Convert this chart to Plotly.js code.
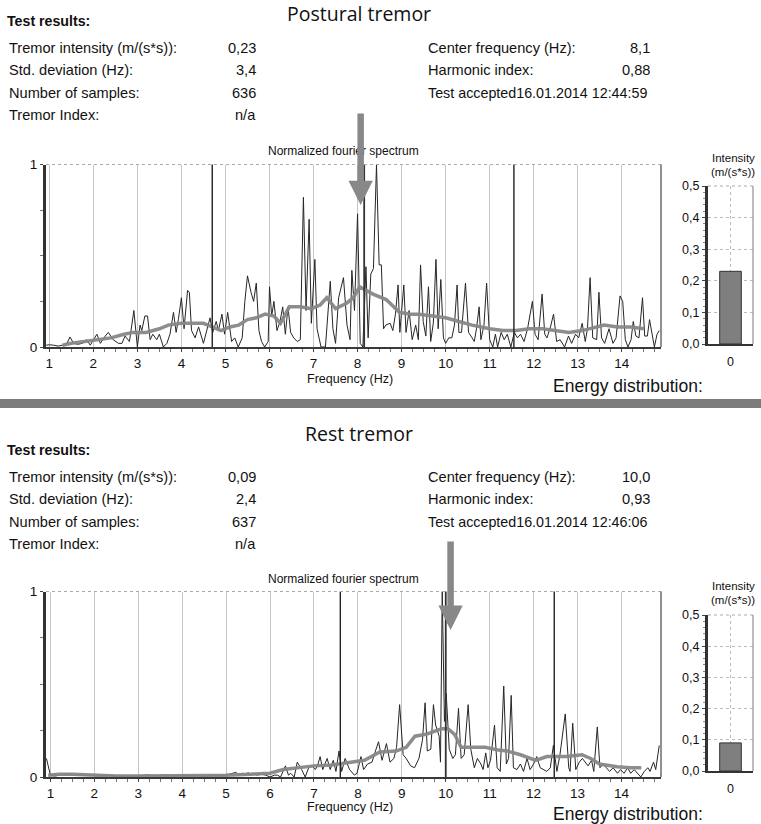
<!DOCTYPE html>
<html>
<head>
<meta charset="utf-8">
<script src="https://cdn.plot.ly/plotly-3.0.1.min.js"></script>
<style>
html,body{margin:0;padding:0;background:#fff;}
#chart{width:761px;height:824px;}
</style>
</head>
<body>
<div id="chart"></div>
<script>
// ---------- DATA ----------
// Postural tremor: normalized fourier spectrum (raw)
const posturalFreq = [0.93,1.00,1.10,1.20,1.30,1.40,1.47,1.55,1.65,1.75,1.85,1.93,2.08,2.16,2.27,2.34,2.45,2.57,2.65,2.72,2.82,2.92,3.00,3.06,3.10,3.17,3.23,3.29,3.35,3.44,3.50,3.59,3.67,3.74,3.82,3.88,3.93,4.00,4.06,4.14,4.18,4.23,4.31,4.39,4.50,4.58,4.65,4.71,4.79,4.84,4.92,4.98,5.05,5.14,5.21,5.29,5.38,5.44,5.50,5.58,5.64,5.70,5.76,5.82,5.89,5.97,6.00,6.05,6.10,6.17,6.24,6.30,6.36,6.42,6.48,6.55,6.63,6.70,6.77,6.83,6.90,6.95,7.03,7.08,7.17,7.27,7.38,7.44,7.50,7.57,7.68,7.76,7.83,7.87,7.93,8.00,8.06,8.12,8.19,8.24,8.30,8.36,8.43,8.49,8.54,8.59,8.64,8.74,8.80,8.86,8.92,8.96,9.05,9.10,9.17,9.24,9.32,9.38,9.43,9.49,9.55,9.61,9.66,9.72,9.78,9.83,9.89,9.95,10.00,10.07,10.14,10.20,10.26,10.30,10.36,10.45,10.52,10.60,10.65,10.70,10.76,10.80,10.87,10.93,11.00,11.07,11.13,11.18,11.26,11.33,11.40,11.48,11.56,11.63,11.70,11.78,11.86,11.97,12.03,12.10,12.19,12.25,12.30,12.38,12.45,12.52,12.60,12.70,12.79,12.86,12.95,13.02,13.10,13.17,13.22,13.28,13.34,13.43,13.48,13.54,13.61,13.71,13.80,13.87,13.96,14.02,14.08,14.14,14.21,14.26,14.32,14.39,14.47,14.52,14.58,14.63,14.68,14.74,14.80,14.85];
const posturalAmp  = [0.01,0.012,0.01,0.005,0.01,0.02,0.055,0.02,0.015,0.02,0.04,0.01,0.07,0.02,0.06,0.08,0.04,0.02,0.02,0.06,0.03,0.20,0.00,0.12,0.09,0.17,0.17,0.04,0.07,0.04,0.07,0.00,0.02,0.07,0.19,0.08,0.15,0.27,0.10,0.31,0.30,0.09,0.05,0.11,0.02,0.10,0.16,0.08,0.14,0.09,0.18,0.07,0.19,0.03,0.05,0.00,0.05,0.25,0.39,0.30,0.25,0.35,0.09,0.03,0.00,0.03,0.33,0.17,0.25,0.09,0.14,0.22,0.07,0.22,0.08,0.05,0.03,0.04,0.82,0.20,0.70,0.13,0.48,0.10,0.00,0.00,0.36,0.10,0.02,0.27,0.38,0.12,0.04,0.42,0.20,0.73,0.02,0.00,0.44,0.05,0.40,0.43,1.00,0.45,0.45,0.10,0.12,0.13,0.09,0.18,0.34,0.08,0.34,0.08,0.20,0.04,0.12,0.04,0.45,0.14,0.06,0.33,0.03,0.13,0.48,0.10,0.37,0.05,0.02,0.05,0.05,0.12,0.34,0.08,0.08,0.35,0.08,0.05,0.03,0.10,0.22,0.04,0.12,0.35,0.04,0.00,0.07,0.00,0.08,0.04,0.07,0.00,0.08,0.05,0.07,0.03,0.10,0.25,0.07,0.04,0.29,0.07,0.05,0.11,0.18,0.03,0.04,0.00,0.06,0.02,0.07,0.05,0.13,0.03,0.10,0.38,0.05,0.04,0.30,0.05,0.02,0.10,0.02,0.05,0.28,0.25,0.04,0.00,0.04,0.14,0.06,0.05,0.27,0.06,0.06,0.15,0.08,0.00,0.07,0.09];
// Postural tremor: smoothed spectrum
const posturalSmoothFreq = [1.3,1.5,1.8,2.1,2.4,2.7,2.9,3.2,3.5,3.7,4.0,4.3,4.5,4.7,4.9,5.1,5.3,5.5,5.7,5.9,6.1,6.25,6.45,6.7,6.95,7.15,7.3,7.5,7.75,7.9,8.05,8.35,8.65,8.95,9.2,9.4,9.7,10.0,10.3,10.6,11.0,11.3,11.6,11.9,12.2,12.5,12.8,13.1,13.4,13.6,13.9,14.2,14.5];
const posturalSmoothAmp  = [0.01,0.02,0.03,0.04,0.05,0.07,0.08,0.08,0.10,0.12,0.13,0.13,0.13,0.11,0.09,0.11,0.12,0.15,0.16,0.18,0.17,0.13,0.22,0.22,0.21,0.23,0.27,0.21,0.24,0.27,0.33,0.29,0.26,0.19,0.18,0.18,0.17,0.16,0.14,0.12,0.10,0.09,0.09,0.10,0.10,0.09,0.08,0.09,0.11,0.12,0.11,0.11,0.10];

// Rest tremor: normalized fourier spectrum (raw)
const restFreq = [0.91,0.95,1.00,1.10,1.20,1.30,1.40,1.50,1.70,2.00,2.50,3.00,3.20,3.40,3.60,3.80,4.00,4.50,5.00,5.15,5.22,5.30,5.38,5.45,5.50,5.55,5.62,5.70,5.80,5.90,6.00,6.10,6.17,6.24,6.35,6.42,6.47,6.55,6.62,6.72,6.80,6.88,6.96,7.03,7.08,7.14,7.20,7.30,7.37,7.44,7.50,7.57,7.63,7.71,7.81,7.92,7.98,8.07,8.13,8.22,8.32,8.40,8.47,8.55,8.65,8.73,8.82,8.88,8.95,9.03,9.10,9.20,9.29,9.39,9.47,9.53,9.58,9.66,9.72,9.77,9.85,9.88,9.92,9.97,10.01,10.08,10.16,10.22,10.29,10.35,10.42,10.51,10.57,10.65,10.72,10.80,10.85,10.91,10.96,11.02,11.11,11.17,11.24,11.32,11.38,11.43,11.49,11.54,11.62,11.70,11.77,11.85,11.92,12.00,12.07,12.15,12.22,12.30,12.38,12.45,12.53,12.60,12.72,12.80,12.83,12.89,12.96,13.04,13.11,13.17,13.24,13.32,13.37,13.45,13.51,13.58,13.66,13.73,13.81,13.91,13.98,14.06,14.14,14.21,14.29,14.37,14.44,14.52,14.60,14.65,14.73,14.78,14.86];
const restAmp  = [0.10,0.06,0.01,0.005,0.01,0.015,0.015,0.01,0.01,0.01,0.005,0.005,0.012,0.005,0.012,0.005,0.01,0.005,0.01,0.02,0.025,0.01,0.02,0.01,0.025,0.01,0.02,0.01,0.015,0.01,0.00,0.01,0.01,0.00,0.06,0.01,0.02,0.00,0.08,0.04,0.00,0.05,0.06,0.04,0.06,0.11,0.04,0.10,0.04,0.09,0.03,0.14,0.03,0.10,0.04,0.01,0.02,0.11,0.04,0.07,0.08,0.14,0.19,0.09,0.18,0.08,0.10,0.16,0.39,0.12,0.10,0.06,0.05,0.10,0.20,0.40,0.14,0.15,0.39,0.28,0.22,0.08,1.00,0.30,0.45,0.15,0.10,0.12,0.37,0.10,0.12,0.39,0.15,0.05,0.10,0.07,0.04,0.13,0.05,0.09,0.28,0.05,0.03,0.49,0.07,0.10,0.44,0.05,0.04,0.07,0.03,0.10,0.04,0.07,0.11,0.05,0.04,0.03,0.05,0.17,0.03,0.12,0.34,0.05,0.03,0.29,0.04,0.08,0.10,0.08,0.06,0.09,0.03,0.27,0.05,0.07,0.05,0.03,0.05,0.02,0.04,0.02,0.05,0.02,0.04,0.02,0.00,0.03,0.05,0.03,0.08,0.04,0.17];
// Rest tremor: smoothed spectrum
const restSmoothFreq = [0.95,1.2,1.5,2.0,2.5,3.0,3.5,4.0,4.5,5.0,5.5,6.0,6.3,6.6,7.0,7.4,7.8,8.15,8.5,8.87,9.1,9.3,9.55,9.9,10.05,10.2,10.35,10.6,10.9,11.2,11.4,11.7,12.05,12.3,12.75,13.1,13.3,13.5,13.9,14.2,14.45];
const restSmoothAmp  = [0.01,0.015,0.015,0.01,0.005,0.005,0.005,0.008,0.008,0.01,0.015,0.02,0.04,0.05,0.06,0.065,0.08,0.09,0.135,0.14,0.16,0.22,0.23,0.26,0.26,0.23,0.16,0.16,0.16,0.145,0.14,0.12,0.09,0.11,0.11,0.12,0.10,0.07,0.055,0.05,0.05];

// Cursor lines (center frequency ± std. deviation) and arrow positions (Hz)
const posturalCursors = [4.7, 8.15, 11.55];
const restCursors = [7.6, 10.0, 12.47];
const posturalArrowFreq = 8.07;
const restArrowFreq = 10.11;

// Energy distribution bars (intensity m/(s*s))
const barCategory = [0];
const posturalIntensity = [0.23];
const restIntensity = [0.09];

// Text blocks
const leftLabels = ["Tremor intensity (m/(s*s)):", "Std. deviation (Hz):", "Number of samples:", "Tremor Index:"];
const posturalLeftValues = ["0,23", "3,4", "636", "n/a"];
const restLeftValues = ["0,09", "2,4", "637", "n/a"];
const rightLabels = ["Center frequency (Hz):", "Harmonic index:"];
const posturalRightValues = ["8,1", "0,88"];
const restRightValues = ["10,0", "0,93"];
const posturalAccepted = "Test accepted16.01.2014 12:44:59";
const restAccepted = "Test accepted16.01.2014 12:46:06";
const specTicks = [1,2,3,4,5,6,7,8,9,10,11,12,13,14];

// ---------- LAYOUT HELPERS ----------
const W = 761, H = 824;
const FONT = "Liberation Sans, Arial, sans-serif";
const px = x => x / W;
const py = y => 1 - y / H;

function txt(text, x, y, opts) {
  opts = opts || {};
  return {
    text: text, xref: 'paper', yref: 'paper', x: px(x), y: py(y),
    xanchor: opts.xanchor || 'left', yanchor: 'middle', showarrow: false,
    font: {family: opts.family || FONT, size: opts.size || 14, color: opts.color || '#111'}
  };
}

const annotations = [];
const shapes = [];
const LS = 14.6;

function infoBlock(title, titleY, resY, rowY, lvals, rvals, accepted) {
  annotations.push(txt(title, 359, titleY, {xanchor: 'center', size: 19.5, family: "Open Sans, Noto Sans, sans-serif"}));
  annotations.push(txt("<b>Test results:</b>", 5, resY, {size: 14.2}));
  leftLabels.forEach((l, i) => {
    annotations.push(txt(l, 7, rowY + i * 22.3, {size: LS}));
    annotations.push(txt(lvals[i], 258, rowY + i * 22.3, {size: LS, xanchor: 'right'}));
  });
  rightLabels.forEach((l, i) => {
    annotations.push(txt(l, 426, rowY + i * 22.3, {size: LS}));
    annotations.push(txt(rvals[i], 652, rowY + i * 22.3, {size: LS, xanchor: 'right'}));
  });
  annotations.push(txt(accepted, 426, rowY + 2 * 22.3, {size: 14.3}));
}
infoBlock("Postural tremor", 14, 21, 48, posturalLeftValues, posturalRightValues, posturalAccepted);
infoBlock("Rest tremor", 433, 450, 477, restLeftValues, restRightValues, restAccepted);

function chartTexts(off) {
  annotations.push(txt("Normalized fourier spectrum", 343, 151 + off, {xanchor: 'center', size: 12}));
  annotations.push(txt("Frequency (Hz)", 350, 379 + off, {xanchor: 'center', size: 12.5}));
  annotations.push(txt("Energy distribution:", 705, 386 + off, {xanchor: 'right', size: 17.5}));
  annotations.push(txt("Intensity", 733, 158 + off, {xanchor: 'center', size: 11.5}));
  annotations.push(txt("(m/(s*s))", 733, 172 + off, {xanchor: 'center', size: 11.5}));
}
chartTexts(0);
chartTexts(428);

// Arrows pointing at center frequency
function arrow(xref, freq, tipY, tailY) {
  annotations.push({
    xref: xref, yref: 'paper', x: freq, y: py(tipY), ax: 0, ay: -(tipY - tailY),
    text: '', showarrow: true, arrowhead: 2, arrowsize: 0.75, arrowwidth: 6.5,
    arrowcolor: '#888888'
  });
}
arrow('x', posturalArrowFreq, 205, 112);
arrow('x3', restArrowFreq, 630, 540);

// Cursor lines
function cursors(xr, yr, vals) {
  vals.forEach((v, i) => {
    shapes.push({type: 'line', xref: xr, yref: yr + ' domain', x0: v, x1: v, y0: 0, y1: 1,
      line: {color: i === 1 ? '#333' : '#222', width: i === 1 ? 1.8 : 1.4}, layer: 'above'});
  });
}
cursors('x', 'y', posturalCursors);
cursors('x3', 'y3', restCursors);

// Frame borders (top dotted, right solid)
function frame(xr, yr, rightColor) {
  shapes.push({type: 'line', xref: xr + ' domain', yref: yr + ' domain', x0: 0, x1: 1, y0: 1, y1: 1,
    line: {color: '#aaa', width: 1, dash: 'dot'}});
  shapes.push({type: 'line', xref: xr + ' domain', yref: yr + ' domain', x0: 1, x1: 1, y0: 0, y1: 1,
    line: {color: rightColor, width: 1.3}});
}
frame('x', 'y', '#555');
frame('x3', 'y3', '#555');
frame('x2', 'y2', '#999');
frame('x4', 'y4', '#999');

// Separator band
shapes.push({type: 'rect', xref: 'paper', yref: 'paper', x0: 0, x1: 1, y0: py(408), y1: py(399),
  fillcolor: '#7b7b7b', line: {width: 0}});

// ---------- TRACES ----------
const rawLine = {color: '#262626', width: 1};
const smoothLine = {color: 'rgba(135,135,135,0.95)', width: 3.5};
const traces = [
  {x: posturalFreq, y: posturalAmp, xaxis: 'x', yaxis: 'y', type: 'scatter', mode: 'lines', line: rawLine, hoverinfo: 'skip'},
  {x: posturalSmoothFreq, y: posturalSmoothAmp, xaxis: 'x', yaxis: 'y', type: 'scatter', mode: 'lines', line: smoothLine, hoverinfo: 'skip'},
  {x: barCategory, y: posturalIntensity, xaxis: 'x2', yaxis: 'y2', type: 'bar', width: 0.48,
   marker: {color: '#7f7f7f', line: {color: '#333', width: 1}}},
  {x: restFreq, y: restAmp, xaxis: 'x3', yaxis: 'y3', type: 'scatter', mode: 'lines', line: rawLine, hoverinfo: 'skip'},
  {x: restSmoothFreq, y: restSmoothAmp, xaxis: 'x3', yaxis: 'y3', type: 'scatter', mode: 'lines', line: smoothLine, hoverinfo: 'skip'},
  {x: barCategory, y: restIntensity, xaxis: 'x4', yaxis: 'y4', type: 'bar', width: 0.48,
   marker: {color: '#7f7f7f', line: {color: '#333', width: 1}}}
];

// ---------- AXES ----------
const tickFont = {family: FONT, size: 13.5, color: '#111'};
const barTickFont = {family: FONT, size: 12.5, color: '#111'};
function specX(domainRange, anchor) {
  return {
    domain: [px(46), px(661)], range: domainRange, anchor: anchor,
    tickvals: specTicks, ticks: 'outside', ticklen: 3, tickcolor: '#444',
    showgrid: true, gridcolor: '#c6c6c6', gridwidth: 1,
    showline: true, linecolor: '#3a3a3a', linewidth: 2, zeroline: false,
    tickfont: tickFont, fixedrange: true,
    minor: {dtick: 0.25, ticks: 'outside', ticklen: 3, tickcolor: '#777', showgrid: false}
  };
}
function specY(top, bottom, anchor) {
  return {
    domain: [py(bottom), py(top)], range: [0, 1], anchor: anchor,
    tickvals: [0, 1], ticks: 'outside', ticklen: 3, tickcolor: '#444',
    showgrid: false, zeroline: false, showline: true, linecolor: '#333', linewidth: 3,
    tickfont: tickFont, fixedrange: true,
    minor: {dtick: 0.25, ticks: 'outside', ticklen: 3, tickcolor: '#777'}
  };
}
function barX(anchor) {
  return {
    domain: [px(708), px(753)], range: [-0.5, 0.5], anchor: anchor,
    tickvals: [0], ticks: 'outside', ticklen: 5, tickcolor: '#fff',
    showgrid: true, gridcolor: '#bbb', griddash: 'dot', zeroline: false,
    showline: true, linecolor: '#333', linewidth: 2, tickfont: barTickFont, fixedrange: true
  };
}
function barY(top, bottom, anchor) {
  return {
    domain: [py(bottom), py(top)], range: [0, 0.5], anchor: anchor,
    dtick: 0.1, tickformat: '.1f', ticks: 'outside', ticklen: 3, tickcolor: '#444',
    showgrid: true, gridcolor: '#bbb', griddash: 'dot', zeroline: false,
    showline: true, linecolor: '#333', linewidth: 3, tickfont: barTickFont, fixedrange: true,
    minor: {dtick: 0.02, ticks: 'outside', ticklen: 2, tickcolor: '#888', showgrid: false}
  };
}

const layout = {
  width: W, height: H, margin: {l: 0, r: 0, t: 0, b: 0},
  paper_bgcolor: '#fff', plot_bgcolor: '#fff', showlegend: false,
  separators: ',.',
  xaxis: specX([0.925, 14.89], 'y'),
  yaxis: specY(164.5, 347, 'x'),
  xaxis2: barX('y2'),
  yaxis2: barY(186, 344, 'x2'),
  xaxis3: specX([0.9, 14.9], 'y3'),
  yaxis3: specY(591.5, 777, 'x3'),
  xaxis4: barX('y4'),
  yaxis4: barY(615, 771, 'x4'),
  annotations: annotations,
  shapes: shapes
};

Plotly.newPlot('chart', traces, layout, {staticPlot: true, displayModeBar: false});
</script>
</body>
</html>
